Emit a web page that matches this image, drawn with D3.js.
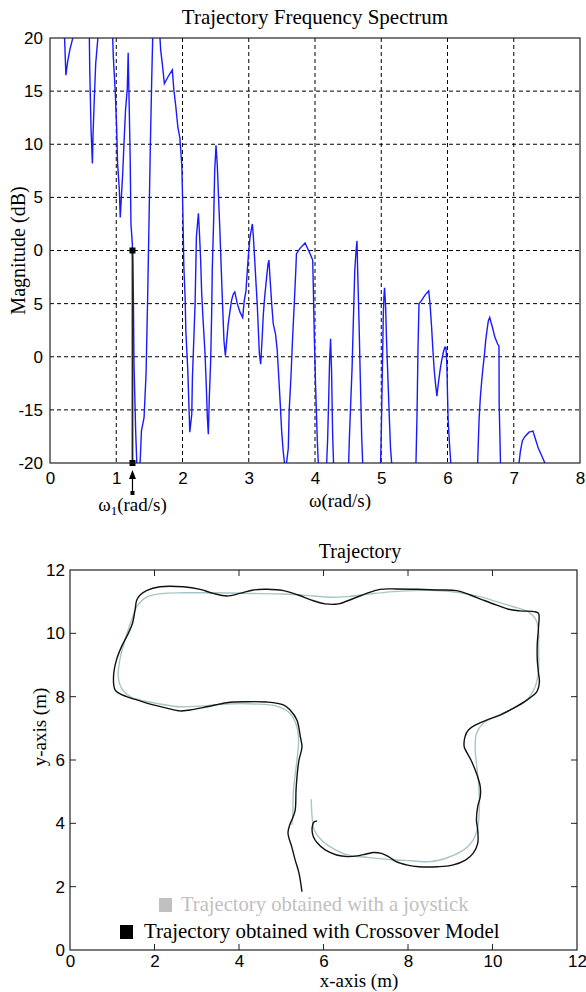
<!DOCTYPE html>
<html>
<head>
<meta charset="utf-8">
<script src="https://cdn.jsdelivr.net/npm/d3@7"></script>
<style>
    body { margin: 0; background: #fff; }
    svg { display: block; }
    .serif { font-family: "Liberation Serif", "Times New Roman", serif; fill: #000; }
    .tick text { font-family: "Liberation Sans", Arial, sans-serif; font-size: 17px; fill: #000; }
</style>
</head>
<body>
<svg id="chart" width="586" height="992"></svg>
<script>
// ========================================
// DATA - spectrum (top panel)
// ========================================
const omega = [
    0, 0.1, 0.2, 0.22, 0.24, 0.267, 0.30, 0.34, 0.40, 0.50, 0.58, 0.594, 0.60, 0.62, 0.64, 0.65, 0.67, 0.69, 0.72, 0.78,
    0.88, 0.94, 0.946, 0.956, 0.986, 1.006, 1.02, 1.047, 1.06, 1.077, 1.097, 1.117, 1.14, 1.167, 1.18, 1.19, 1.21, 1.222, 1.243, 1.258,
    1.268, 1.293, 1.31, 1.33, 1.35, 1.36, 1.38, 1.42, 1.45, 1.474, 1.494, 1.514, 1.535, 1.55, 1.6, 1.64, 1.66, 1.67, 1.70, 1.726,
    1.786, 1.846, 1.87, 1.90, 1.93, 1.96, 1.99, 2.005, 2.02, 2.04, 2.05, 2.08, 2.11, 2.14, 2.15, 2.17, 2.19, 2.21, 2.24, 2.254,
    2.274, 2.29, 2.314, 2.34, 2.36, 2.375, 2.39, 2.405, 2.425, 2.44, 2.45, 2.47, 2.486, 2.506, 2.526, 2.546, 2.566, 2.586, 2.606, 2.626,
    2.647, 2.667, 2.69, 2.717, 2.74, 2.767, 2.79, 2.827, 2.868, 2.908, 2.933, 2.958, 2.978, 3.00, 3.02, 3.04, 3.055, 3.07, 3.09, 3.11,
    3.13, 3.145, 3.16, 3.18, 3.2, 3.22, 3.24, 3.27, 3.29, 3.305, 3.32, 3.346, 3.37, 3.405, 3.43, 3.45, 3.47, 3.497, 3.52, 3.54,
    3.555, 3.57, 3.597, 3.61, 3.637, 3.66, 3.687, 3.71, 3.72, 3.773, 3.85, 3.925, 3.965, 3.975, 3.99, 4.01, 4.035, 4.05, 4.11, 4.16,
    4.176, 4.19, 4.206, 4.22, 4.235, 4.25, 4.266, 4.28, 4.4, 4.49, 4.508, 4.52, 4.54, 4.56, 4.575, 4.59, 4.60, 4.62, 4.634, 4.644,
    4.665, 4.685, 4.705, 4.72, 4.85, 4.97, 4.99, 5.0, 5.016, 5.03, 5.04, 5.05, 5.066, 5.08, 5.10, 5.12, 5.14, 5.157, 5.35, 5.5,
    5.524, 5.54, 5.555, 5.57, 5.61, 5.66, 5.716, 5.736, 5.76, 5.78, 5.80, 5.82, 5.84, 5.86, 5.887, 5.91, 5.936, 5.96, 5.977, 5.99,
    6.0, 6.01, 6.03, 6.05, 6.25, 6.44, 6.455, 6.476, 6.496, 6.516, 6.536, 6.556, 6.576, 6.596, 6.617, 6.637, 6.677, 6.717, 6.757, 6.777,
    6.78, 6.80, 6.95, 7.06, 7.08, 7.10, 7.13, 7.17, 7.23, 7.29, 7.32, 7.37, 7.42, 7.47, 7.5, 7.6
];
const magnitude = [
    27, 29, 23, 20, 16.5, 17.8, 18.9, 19.9, 24, 26, 22, 20, 17.0, 11.3, 8.2, 11.0, 14.5, 17.6, 19.8, 24,
    25, 21, 20, 18.2, 14.8, 11.6, 8.2, 5.7, 3.1, 5.0, 7.2, 10.1, 13.2, 15.3, 18.6, 15.4, 8.8, 2.5, 0.6, -4.1,
    -10.7, -17, -20, -23, -22.5, -20, -17, -15.7, -11.6, -4.4, 2.5, 9.7, 16, 20, 24, 22, 20, 18.9, 17.3, 15.7,
    16.4, 17.0, 15.1, 13.5, 11.6, 10.6, 8.0, 3.8, -1.5, -4.5, -7.5, -11.3, -17.1, -15.4, -11.9, -8.5, -5.0, 1.3, 3.5, 1.9,
    -0.9, -4.1, -6.9, -9.7, -12.9, -15.7, -17.3, -13.8, -10.4, -6.0, -1.6, 2.8, 7.5, 9.9, 7.9, 4.7, 1.6, -1.9, -5.3, -8.5,
    -9.9, -8.5, -6.9, -5.7, -4.7, -4.1, -3.9, -5.0, -5.8, -6.3, -4.7, -3.8, -1.9, 0, 1.3, 2.0, 2.5, 1.3, -0.9, -3.1,
    -5.3, -7.5, -9.7, -10.7, -8.5, -6.0, -4.4, -2.5, -1.3, -0.9, -2.5, -5.0, -6.9, -7.9, -9.4, -11.6, -13.8, -17, -18.9, -20,
    -22, -20, -18.6, -15.1, -11.9, -8.5, -5.0, -1.9, -0.3, 0.2, 0.7, -0.3, -0.9, -3.5, -8.2, -13, -17.9, -20, -24, -23,
    -20, -17.9, -14.2, -10.4, -8.3, -11.3, -17.3, -20, -25, -23, -20, -17.5, -14.2, -11.0, -7.5, -4.2, -1.9, 0, 0.9, -1.9,
    -6.9, -12.3, -17.6, -20, -25, -23, -20, -17.3, -11.6, -6.3, -4.4, -3.5, -5.3, -8.5, -11.9, -15.4, -18.6, -20, -26, -23,
    -20, -15.4, -9.1, -5.0, -4.7, -4.2, -3.8, -5.0, -7.2, -9.4, -11.3, -12.6, -13.7, -12.6, -11.3, -10.4, -9.6, -9.1, -9.1, -10.7,
    -13.5, -16, -18.2, -20, -26, -23, -20, -16, -13.8, -12.3, -11.0, -9.9, -8.5, -7.5, -6.6, -6.3, -7.2, -8.2, -8.8, -9.0,
    -14.5, -20, -25, -22, -20, -18.9, -17.9, -17.5, -17.1, -17.0, -17.6, -18.6, -19.3, -20, -20.6, -22
];
const omegaOne = 1.245;           // marked frequency
const markerDb = [0, -20];        // top / bottom of the marker line
const specXTicks = [0, 1, 2, 3, 4, 5, 6, 7, 8];
const specYTicks = [20, 15, 10, 5, 0, -5, -10, -15, -20];
const specYTickText = ['20', '15', '10', '5', '0', '5', '0', '-15', '-20'];

// ========================================
// DATA - trajectories (bottom panel)
// ========================================
const joystickPath = [
    [5.25, 3.95], [5.27, 4.21], [5.29, 5.05], [5.38, 6.10], [5.41, 6.63], [5.37, 7.05], [5.21, 7.47], [4.89, 7.70],
    [4.34, 7.77], [3.71, 7.77], [3.08, 7.70], [2.60, 7.68], [2.13, 7.77], [1.73, 7.87], [1.42, 8.0], [1.22, 8.26],
    [1.14, 8.63], [1.18, 9.16], [1.30, 9.79], [1.46, 10.42], [1.58, 10.84], [1.81, 11.14], [2.21, 11.26], [2.68, 11.28],
    [3.47, 11.28], [4.26, 11.26], [5.05, 11.24], [5.76, 11.18], [6.15, 11.14], [6.55, 11.16], [7.02, 11.23], [7.57, 11.31],
    [8.13, 11.35], [8.68, 11.35], [9.23, 11.28], [9.70, 11.16], [10.10, 11.0], [10.49, 10.84], [10.85, 10.68], [11.01, 10.47],
    [11.09, 10.1], [11.09, 9.58], [11.09, 8.84], [11.01, 8.31], [10.81, 7.89], [10.49, 7.63], [10.10, 7.39], [9.78, 7.16],
    [9.62, 6.84], [9.59, 6.37], [9.62, 5.89], [9.67, 5.26], [9.69, 4.53], [9.65, 3.89], [9.54, 3.47], [9.32, 3.16],
    [8.96, 2.93], [8.52, 2.79], [8.08, 2.82], [7.54, 2.86], [7.01, 2.93], [6.57, 3.0], [6.22, 3.21], [5.95, 3.47],
    [5.78, 3.79], [5.73, 4.21], [5.71, 4.76]
];
const crossoverPath = [
    [5.49, 1.84], [5.42, 2.43], [5.33, 2.84], [5.25, 3.25], [5.16, 3.69], [5.20, 3.95], [5.27, 4.17], [5.33, 4.42],
    [5.35, 5.05], [5.38, 5.58], [5.42, 6.0], [5.49, 6.41], [5.45, 6.75], [5.37, 7.26], [5.21, 7.58], [5.05, 7.74],
    [4.65, 7.83], [4.18, 7.84], [3.71, 7.81], [3.24, 7.68], [2.84, 7.58], [2.60, 7.55], [2.29, 7.64], [1.97, 7.74],
    [1.58, 7.9], [1.34, 8.0], [1.07, 8.21], [1.03, 8.63], [1.10, 9.16], [1.22, 9.58], [1.38, 10.0], [1.48, 10.32],
    [1.54, 10.74], [1.58, 11.05], [1.66, 11.21], [1.81, 11.35], [2.13, 11.47], [2.68, 11.47], [3.08, 11.39], [3.39, 11.26],
    [3.71, 11.18], [4.02, 11.26], [4.34, 11.37], [4.66, 11.39], [5.05, 11.35], [5.40, 11.21], [5.76, 11.03], [6.04, 10.93],
    [6.35, 10.93], [6.71, 11.1], [7.02, 11.26], [7.34, 11.39], [7.73, 11.4], [8.21, 11.39], [8.68, 11.37], [9.15, 11.35],
    [9.47, 11.21], [9.78, 11.05], [10.10, 10.89], [10.38, 10.76], [10.65, 10.71], [11.01, 10.68], [11.09, 10.63], [11.09, 10.21],
    [11.06, 9.68], [11.06, 9.16], [11.09, 8.74], [11.11, 8.47], [11.05, 8.16], [10.81, 7.89], [10.49, 7.63], [10.18, 7.42],
    [9.86, 7.26], [9.59, 7.10], [9.43, 6.95], [9.35, 6.74], [9.33, 6.42], [9.36, 6.32], [9.49, 6.0], [9.62, 5.58],
    [9.71, 5.16], [9.71, 4.84], [9.65, 4.53], [9.62, 4.10], [9.65, 3.79], [9.65, 3.37], [9.54, 3.05], [9.36, 2.84],
    [9.05, 2.68], [8.70, 2.63], [8.25, 2.63], [7.99, 2.68], [7.72, 2.79], [7.54, 2.95], [7.37, 3.05], [7.19, 3.08],
    [7.01, 3.03], [6.84, 2.98], [6.57, 2.95], [6.31, 3.0], [6.04, 3.16], [5.86, 3.37], [5.76, 3.58], [5.73, 3.84],
    [5.78, 4.05], [5.85, 4.07]
];
const trajTicks = [0, 2, 4, 6, 8, 10, 12];
const legendLabels = ['Trajectory obtained with a joystick', 'Trajectory obtained with Crossover Model'];
const legendColors = ['#c0c0c0', '#000000'];

const svg = d3.select('#chart');

// ========================================
// TOP PANEL: frequency spectrum
// ========================================
function drawSpectrum() {
    const left = 50, right = 580, top = 38, bottom = 463;
    const x = d3.scaleLinear().domain([0, 8]).range([left, right]);
    const y = d3.scaleLinear().domain([-20, 20]).range([bottom, top]);

    svg.append('clipPath').attr('id', 'spec-clip')
        .append('rect').attr('x', left).attr('y', top).attr('width', right - left).attr('height', bottom - top);

    // Dashed grid
    const grid = svg.append('g').attr('stroke', '#000').attr('stroke-width', 1).attr('stroke-dasharray', '4,3');
    grid.selectAll('.gx').data(specXTicks.slice(1, -1)).enter().append('line')
        .attr('x1', d => x(d)).attr('x2', d => x(d)).attr('y1', top).attr('y2', bottom);
    grid.selectAll('.gy').data(specYTicks.slice(1, -1)).enter().append('line')
        .attr('x1', left).attr('x2', right).attr('y1', d => y(d)).attr('y2', d => y(d));

    // Spectrum line
    const pts = omega.map((w, i) => [w, magnitude[i]]);
    svg.append('path')
        .datum(pts)
        .attr('clip-path', 'url(#spec-clip)')
        .attr('fill', 'none')
        .attr('stroke', '#1a1aff')
        .attr('stroke-width', 1.4)
        .attr('d', d3.line().x(d => x(d[0])).y(d => y(d[1])));

    // Marker line at omega_1
    svg.append('line')
        .attr('x1', x(omegaOne)).attr('x2', x(omegaOne))
        .attr('y1', y(markerDb[0])).attr('y2', y(markerDb[1]))
        .attr('stroke', '#222').attr('stroke-width', 1.8);
    svg.selectAll('.mk').data(markerDb).enter().append('rect')
        .attr('x', x(omegaOne) - 3).attr('y', d => y(d) - 3)
        .attr('width', 6).attr('height', 6).attr('fill', '#000');

    // Box
    svg.append('rect').attr('x', left).attr('y', top).attr('width', right - left).attr('height', bottom - top)
        .attr('fill', 'none').attr('stroke', '#222').attr('stroke-width', 1.2);

    // Tick labels
    const xAxis = svg.append('g').attr('transform', `translate(0,${bottom})`)
        .call(d3.axisBottom(x).tickValues(specXTicks).tickFormat(d3.format('d')).tickSize(0).tickPadding(9));
    xAxis.select('.domain').remove();

    const yAxis = svg.append('g').attr('transform', `translate(${left},0)`)
        .call(d3.axisLeft(y).tickValues(specYTicks).tickFormat((d, i) => specYTickText[i]).tickSize(0).tickPadding(7));
    yAxis.select('.domain').remove();

    // Arrow under omega_1
    const ax = x(omegaOne);
    svg.append('line').attr('x1', ax).attr('x2', ax).attr('y1', 476).attr('y2', 493)
        .attr('stroke', '#000').attr('stroke-width', 1.2);
    svg.append('path').attr('d', `M${ax},470 L${ax - 3.5},479 L${ax + 3.5},479 Z`).attr('fill', '#000');
    svg.append('rect').attr('x', ax - 2).attr('y', 491).attr('width', 4).attr('height', 4).attr('fill', '#000');

    // Title and labels
    svg.append('text').attr('class', 'serif').attr('x', (left + right) / 2).attr('y', 24)
        .attr('text-anchor', 'middle').attr('font-size', 21)
        .text('Trajectory Frequency Spectrum');

    svg.append('text').attr('class', 'serif')
        .attr('transform', `translate(25,${(top + bottom) / 2}) rotate(-90)`)
        .attr('text-anchor', 'middle').attr('font-size', 20)
        .text('Magnitude (dB)');

    const wl = svg.append('text').attr('class', 'serif').attr('x', 340).attr('y', 507)
        .attr('text-anchor', 'middle').attr('font-size', 19);
    wl.append('tspan').text('\u03c9');
    wl.append('tspan').text('(rad/s)');

    const w1 = svg.append('text').attr('class', 'serif').attr('x', ax).attr('y', 511)
        .attr('text-anchor', 'middle').attr('font-size', 19);
    w1.append('tspan').text('\u03c9');
    w1.append('tspan').attr('font-size', 13).attr('dy', 4).text('1');
    w1.append('tspan').attr('dy', -4).text('(rad/s)');
}

// ========================================
// BOTTOM PANEL: trajectories
// ========================================
function drawTrajectory() {
    const left = 70, right = 577, top = 570, bottom = 950;
    const x = d3.scaleLinear().domain([0, 12]).range([left, right]);
    const y = d3.scaleLinear().domain([0, 12]).range([bottom, top]);
    const line = d3.line().x(d => x(d[0])).y(d => y(d[1])).curve(d3.curveCatmullRom.alpha(0.5));

    svg.append('path').datum(joystickPath)
        .attr('fill', 'none').attr('stroke', '#a6c6c6').attr('stroke-width', 1.4).attr('d', line);
    svg.append('path').datum(crossoverPath)
        .attr('fill', 'none').attr('stroke', '#111').attr('stroke-width', 1.4).attr('d', line);

    // Box with inward ticks on all sides
    const tk = 6;
    const ticks = svg.append('g').attr('stroke', '#222').attr('stroke-width', 1);
    const inner = trajTicks.slice(1, -1);
    ticks.selectAll('.tb').data(inner).enter().append('line')
        .attr('x1', d => x(d)).attr('x2', d => x(d)).attr('y1', bottom).attr('y2', bottom - tk);
    ticks.selectAll('.tt').data(inner).enter().append('line')
        .attr('x1', d => x(d)).attr('x2', d => x(d)).attr('y1', top).attr('y2', top + tk);
    ticks.selectAll('.tl').data(inner).enter().append('line')
        .attr('x1', left).attr('x2', left + tk).attr('y1', d => y(d)).attr('y2', d => y(d));
    ticks.selectAll('.tr').data(inner).enter().append('line')
        .attr('x1', right).attr('x2', right - tk).attr('y1', d => y(d)).attr('y2', d => y(d));

    svg.append('rect').attr('x', left).attr('y', top).attr('width', right - left).attr('height', bottom - top)
        .attr('fill', 'none').attr('stroke', '#222').attr('stroke-width', 1.2);

    const xAxis = svg.append('g').attr('transform', `translate(0,${bottom})`)
        .call(d3.axisBottom(x).tickValues(trajTicks).tickFormat(d3.format('d')).tickSize(0).tickPadding(5));
    xAxis.select('.domain').remove();
    const yAxis = svg.append('g').attr('transform', `translate(${left},0)`)
        .call(d3.axisLeft(y).tickValues(trajTicks).tickFormat(d3.format('d')).tickSize(0).tickPadding(5));
    yAxis.select('.domain').remove();

    svg.append('text').attr('class', 'serif').attr('x', 360).attr('y', 558)
        .attr('text-anchor', 'middle').attr('font-size', 20).text('Trajectory');
    svg.append('text').attr('class', 'serif').attr('x', 359).attr('y', 987)
        .attr('text-anchor', 'middle').attr('font-size', 19).text('x-axis (m)');
    svg.append('text').attr('class', 'serif')
        .attr('transform', 'translate(46,727) rotate(-90)')
        .attr('text-anchor', 'middle').attr('font-size', 19).text('y-axis (m)');

    // Legend
    const lg = svg.append('g');
    const rows = [{sx: 159, sy: 898, tx: 181, ty: 911, fs: 20.6}, {sx: 120, sy: 925, tx: 144, ty: 938, fs: 20.9}];
    legendLabels.forEach((lab, i) => {
        lg.append('rect').attr('x', rows[i].sx).attr('y', rows[i].sy).attr('width', 13).attr('height', 14)
            .attr('fill', legendColors[i]);
        lg.append('text').attr('class', 'serif').attr('x', rows[i].tx).attr('y', rows[i].ty)
            .attr('font-size', rows[i].fs).style('fill', legendColors[i]).text(lab);
    });
}

drawSpectrum();
drawTrajectory();
</script>
</body>
</html>
